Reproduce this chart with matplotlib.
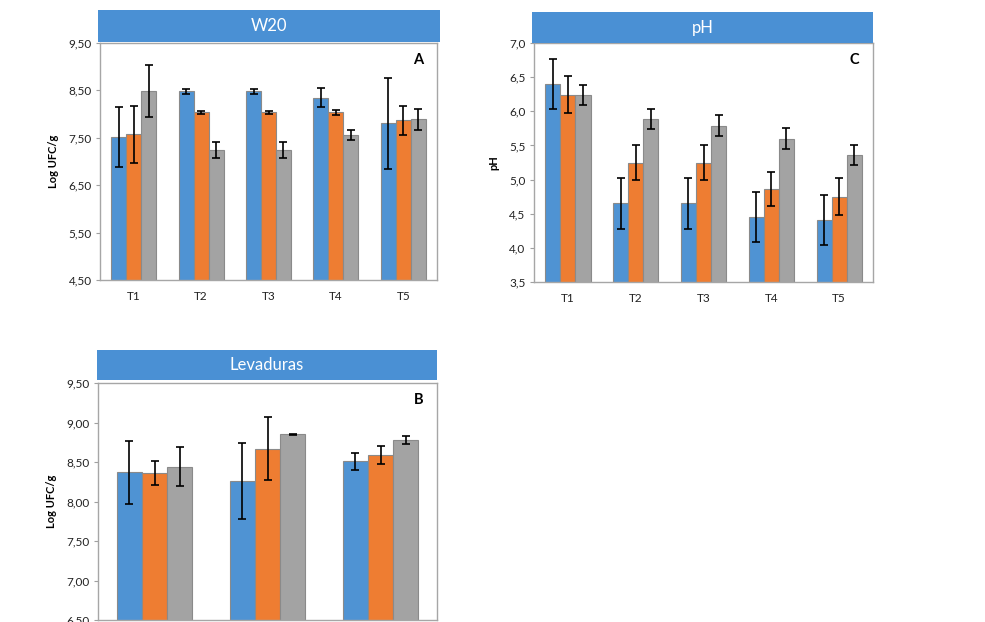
import numpy as np
import matplotlib
matplotlib.use('Agg')
import matplotlib.pyplot as plt
from matplotlib.patches import Rectangle

plt.rcParams['font.family'] = ['Lato', 'DejaVu Sans']

# ---- datos ----
trat = ['T1', 'T2', 'T3', 'T4', 'T5']

# W20 (A)
w20_azul = [7.51, 8.48, 8.48, 8.35, 7.81]
w20_azul_err = [0.63, 0.05, 0.05, 0.20, 0.96]
w20_nar = [7.57, 8.04, 8.04, 8.04, 7.87]
w20_nar_err = [0.61, 0.03, 0.03, 0.05, 0.31]
w20_gris = [8.48, 7.25, 7.25, 7.56, 7.89]
w20_gris_err = [0.55, 0.17, 0.17, 0.11, 0.22]

# pH (C)
ph_azul = [6.40, 4.65, 4.65, 4.45, 4.41]
ph_azul_err = [0.37, 0.37, 0.37, 0.37, 0.37]
ph_nar = [6.24, 5.25, 5.25, 4.86, 4.75]
ph_nar_err = [0.27, 0.26, 0.26, 0.25, 0.27]
ph_gris = [6.24, 5.89, 5.79, 5.60, 5.36]
ph_gris_err = [0.15, 0.15, 0.15, 0.15, 0.15]

# Levaduras (B)
lev_grupos = ['', '', '']
lev_azul = [8.37, 8.26, 8.51]
lev_azul_err = [0.40, 0.48, 0.11]
lev_nar = [8.36, 8.67, 8.59]
lev_nar_err = [0.15, 0.40, 0.11]
lev_gris = [8.44, 8.85, 8.78]
lev_gris_err = [0.25, 0.005, 0.05]

AZUL = '#4f93d3'
NAR = '#ee7d32'
GRIS = '#a3a3a3'
BANNER = '#4a90d4'
W, H = 985, 622


def px_rect(x0, y0, x1, y1):
    # caja en pixeles (origen arriba-izquierda) -> fraccion de figura
    return [x0 / W, 1 - y1 / H, (x1 - x0) / W, (y1 - y0) / H]


def panel(fig, box, banner, titulo, letra, cats, series, ylim, yticks, fmt, ylabel):
    ax = fig.add_axes(px_rect(*box))
    x = np.arange(len(cats))
    w = 1 / 4.5
    for i, (vals, errs, col) in enumerate(series):
        ax.bar(x + (i - 1) * w, vals, w, color=col, edgecolor='#8a8a8a', lw=0.8,
               yerr=errs, capsize=3, error_kw=dict(ecolor='black', elinewidth=1.2, capthick=1.2))
    ax.set_xlim(-0.5, len(cats) - 0.5)
    ax.set_ylim(*ylim)
    ax.set_yticks(yticks)
    ax.set_yticklabels([fmt.format(v).replace('.', ',') for v in yticks], fontsize=8.5,
                       color='#222222')
    ax.set_xticks(x)
    ax.set_xticklabels(cats, fontsize=8.5, color='#222222')
    ax.tick_params(axis='x', length=0, pad=8)
    ax.tick_params(axis='y', length=3, color='#a0a0a0', pad=3)
    for s in ax.spines.values():
        s.set_color('#a6a6a6')
        s.set_linewidth(1.0)
    ax.set_ylabel(ylabel, fontsize=8, fontweight='bold', labelpad=7)
    ax.text(0.96, 0.93, letra, transform=ax.transAxes, ha='right', va='center',
            fontsize=10.5, fontweight='bold')

    bx = px_rect(*banner)
    fig.patches.append(Rectangle((bx[0], bx[1]), bx[2], bx[3], transform=fig.transFigure,
                                 facecolor=BANNER, edgecolor='none'))
    fig.text(bx[0] + bx[2] / 2, bx[1] + bx[3] / 2, titulo, color='white',
             ha='center', va='center', fontsize=12)
    return ax


fig = plt.figure(figsize=(W / 100, H / 100), dpi=100)

panel(fig, (100, 43, 437, 280), (98, 10, 440, 42), 'W20', 'A', trat,
      [(w20_azul, w20_azul_err, AZUL), (w20_nar, w20_nar_err, NAR), (w20_gris, w20_gris_err, GRIS)],
      (4.5, 9.5), [4.5, 5.5, 6.5, 7.5, 8.5, 9.5], '{:.2f}', 'Log UFC/g')

panel(fig, (534, 43, 873, 282), (532, 12, 873, 43), 'pH', 'C', trat,
      [(ph_azul, ph_azul_err, AZUL), (ph_nar, ph_nar_err, NAR), (ph_gris, ph_gris_err, GRIS)],
      (3.5, 7.0), [3.5, 4.0, 4.5, 5.0, 5.5, 6.0, 6.5, 7.0], '{:.1f}', 'pH')

panel(fig, (98, 383, 437, 620), (97, 350, 437, 380), 'Levaduras', 'B', lev_grupos,
      [(lev_azul, lev_azul_err, AZUL), (lev_nar, lev_nar_err, NAR), (lev_gris, lev_gris_err, GRIS)],
      (6.5, 9.5), [6.5, 7.0, 7.5, 8.0, 8.5, 9.0, 9.5], '{:.2f}', 'Log UFC/g')

fig.savefig('out.png', dpi=100)
